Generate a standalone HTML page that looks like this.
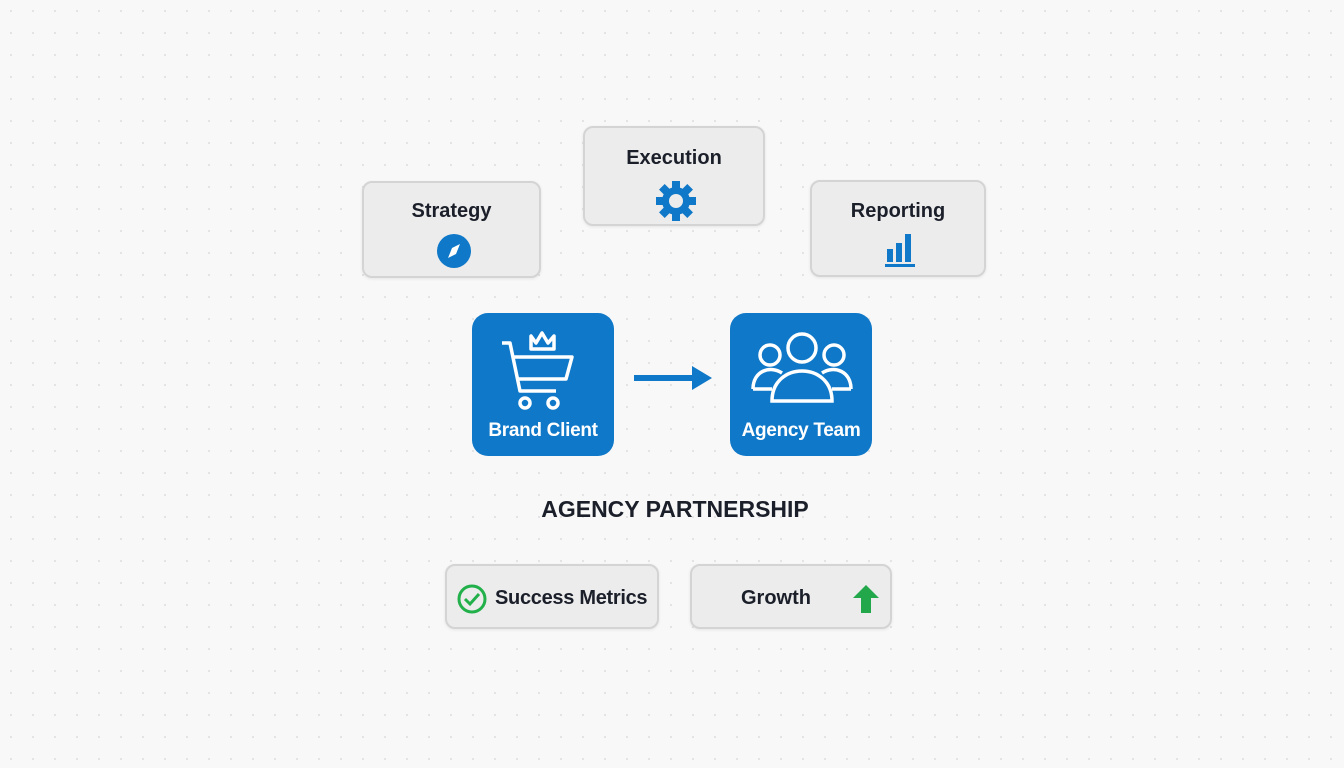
<!DOCTYPE html>
<html><head><style>
body{margin:0;width:1344px;height:768px;overflow:hidden;background:#f8f8f8;
background-image:radial-gradient(circle,#e2e2e2 1px,transparent 1.3px);background-size:22px 22px;
font-family:"Liberation Sans",sans-serif;position:relative}
.c{position:absolute;background:#ececec;border:2px solid #d4d4d4;border-radius:10px;box-sizing:border-box;box-shadow:0 1px 3px rgba(0,0,0,.08)}
.c .t{position:absolute;left:0;right:0;text-align:center;font-size:20px;color:#1b1f2a;font-weight:bold}
.b{position:absolute;background:#0f78c8;border-radius:16px;width:142px;height:143px;top:313px}
.b .t{position:absolute;left:0;right:0;bottom:14px;text-align:center;color:#fff;font-size:19px;font-weight:bold;letter-spacing:-0.3px}
</style></head><body>
<div class="c" style="left:362px;top:181px;width:179px;height:97px"><div class="t" style="top:17px">Strategy</div>
<svg style="position:absolute;left:72px;top:50px" width="36" height="36"><circle cx="18" cy="18" r="17" fill="#0f78c8"/><path d="M24 11 L20 21 L12 25 L16 15Z" fill="#fff"/></svg></div>
<div class="c" style="left:583px;top:126px;width:182px;height:100px"><div class="t" style="top:19px">Execution</div>
<svg style="position:absolute;left:70px;top:52px" width="42" height="42" viewBox="0 0 42 42"><g fill="#0f78c8" transform="translate(21 21)">
<rect x="-4" y="-20" width="8" height="40"/><rect x="-4" y="-20" width="8" height="40" transform="rotate(45)"/><rect x="-4" y="-20" width="8" height="40" transform="rotate(90)"/><rect x="-4" y="-20" width="8" height="40" transform="rotate(135)"/><circle r="14"/></g><circle cx="21" cy="21" r="7" fill="#ececec"/></svg></div>
<div class="c" style="left:810px;top:180px;width:176px;height:97px"><div class="t" style="top:18px">Reporting</div>
<svg style="position:absolute;left:72px;top:50px" width="34" height="36"><g fill="#0f78c8"><rect x="3" y="17" width="6" height="13"/><rect x="12" y="11" width="6" height="19"/><rect x="21" y="2" width="6" height="28"/><rect x="1" y="32" width="30" height="3"/></g></svg></div>
<div class="b" style="left:472px">
<svg style="position:absolute;left:26px;top:14px" width="82" height="84" fill="none" stroke="#fff" stroke-width="3.5" stroke-linejoin="round"><path d="M33 9 L33 22 L56 22 L56 9 L50 16 L44 6 L38 16Z"/><path d="M4 16 L12 16 L22 64 L58 64"/><path d="M14 30 L74 30 L68 52 L19 52"/><circle cx="27" cy="76" r="5"/><circle cx="55" cy="76" r="5"/></svg>
<div class="t">Brand Client</div></div>
<svg style="position:absolute;left:632px;top:364px" width="82" height="28"><rect x="2" y="11" width="58" height="6" fill="#0f78c8"/><path d="M60 2 L80 14 L60 26Z" fill="#0f78c8"/></svg>
<div class="b" style="left:730px">
<svg style="position:absolute;left:20px;top:18px" width="104" height="72" fill="none" stroke="#fff" stroke-width="3.5"><circle cx="52" cy="17" r="14"/><path d="M22 70 C22 30 82 30 82 70 Z"/><circle cx="20" cy="24" r="10"/><circle cx="84" cy="24" r="10"/><path d="M3 58 C3 40 20 34 32 42 M101 58 C101 40 84 34 72 42 M3 58 L22 58 M101 58 L82 58"/></svg>
<div class="t">Agency Team</div></div>
<div style="position:absolute;left:475px;width:400px;top:496px;text-align:center;font-size:23px;font-weight:bold;color:#1b1f2a">AGENCY PARTNERSHIP</div>
<div class="c" style="left:445px;top:564px;width:214px;height:65px">
<svg style="position:absolute;left:10px;top:18px" width="30" height="30" fill="none" stroke="#22b04b" stroke-width="3"><circle cx="15" cy="15" r="13"/><path d="M8 15 L13 20 L22 10"/></svg>
<div class="t" style="left:48px;right:auto;top:21px;font-size:20px;letter-spacing:-0.3px">Success Metrics</div></div>
<div class="c" style="left:690px;top:564px;width:202px;height:65px">
<div class="t" style="left:0;right:30px;top:21px;font-size:20px">Growth</div>
<svg style="position:absolute;left:160px;top:18px" width="28" height="30"><path d="M14 1 L27 14 L19 14 L19 29 L9 29 L9 14 L1 14Z" fill="#22a84a"/></svg></div>
</body></html>
